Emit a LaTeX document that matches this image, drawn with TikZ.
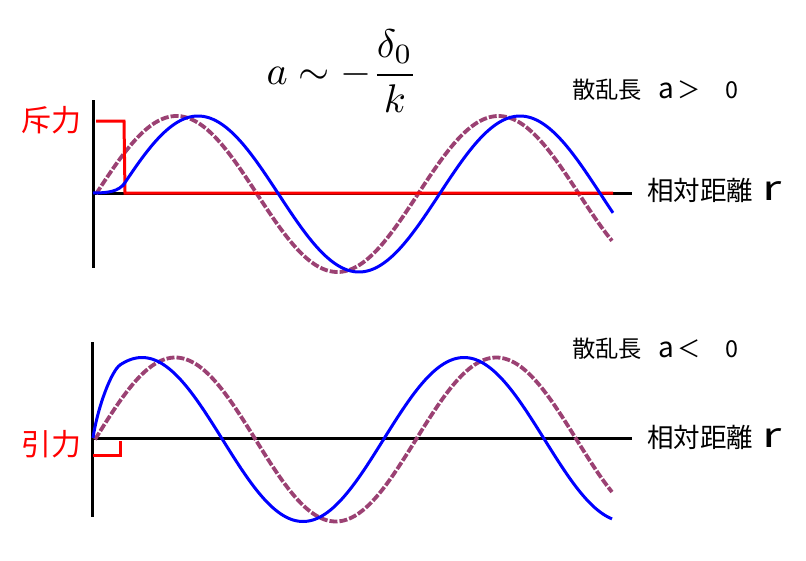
\documentclass[tikz,border=0pt]{standalone}
\usepackage{graphicx}
\usepackage{fontspec}
\newfontfamily\jp{Noto Sans CJK JP}
\definecolor{wavepurple}{RGB}{155,65,115}
\newcommand{\myrlet}{\scalebox{1.45}[1.0]{\fontsize{34}{36}\selectfont r}}
\newcommand{\myalet}{{\fontsize{28}{30}\selectfont a}}
\begin{document}
\begin{tikzpicture}[x=1pt,y=-1pt,
  axis/.style={line width=3pt,black},
  redline/.style={line width=3pt,red,line join=miter},
  bluewave/.style={line width=3pt,blue},
  freewave/.style={line width=3.8pt,wavepurple,dash pattern=on 8pt off 2pt},
  label/.style={inner sep=0pt,font=\jp\fontsize{23.3}{26}\selectfont},
  rlabel/.style={inner sep=0pt,font=\jp\fontsize{26.5}{30}\selectfont},
  forcelabel/.style={inner sep=0pt,text=red,font=\jp\fontsize{30}{34}\selectfont}]
\useasboundingbox (0,0) rectangle (806,560);
% ---------- top panel ----------
\coordinate (t-y0) at (93,100);
\coordinate (t-y1) at (93,268);
\coordinate (t-o) at (93,193);
\coordinate (t-x1) at (632,193);
\draw[axis] (t-y0) -- (t-y1);
\draw[axis] (t-o) -- (t-x1);
\draw[freewave] plot[domain=96:612,samples=200] (\x,{194-78*sin((\x-96)/322*360)});
\coordinate (t-r0) at (96,121);
\coordinate (t-r1) at (124,121);
\coordinate (t-r2) at (125,193);
\coordinate (t-r3) at (613,193);
\draw[redline] (t-r0) -- (t-r1) -- (t-r2) -- (t-r3);
\draw[bluewave] (93,193) .. controls (108,193) and (119,191.6) .. (125,182.6)
  -- plot[domain=125:613,samples=200] (\x,{194-78*sin((\x-117.5)/322*360)});
\node[forcelabel] (repulsive) at (51.5,120) {斥力};
\node[label,anchor=west] (topa) at (572,90) {散乱長\hspace{16pt}\myalet\hspace{4pt}＞\hspace{24pt}0};
\node[rlabel,anchor=west] (topr) at (647,190) {相対距離\hspace{9pt}\myrlet};
\node[inner sep=0pt] (formula) at (342,71) {\scalebox{4.0}{$\displaystyle a \sim -\frac{\delta_0}{k}$}};
% ---------- bottom panel ----------
\coordinate (b-y0) at (92,342);
\coordinate (b-y1) at (92,517);
\coordinate (b-o) at (92,438);
\coordinate (b-x1) at (632,438);
\draw[axis] (b-y0) -- (b-y1);
\draw[axis] (b-o) -- (b-x1);
\draw[freewave] plot[domain=95:612,samples=200] (\x,{439.5-82*sin((\x-95)/321*360)});
\coordinate (b-r0) at (93,455);
\coordinate (b-r1) at (120,455);
\coordinate (b-r2) at (120,441);
\draw[redline] (b-r0) -- (b-r1) -- (b-r2);
\draw[bluewave] (93,438) .. controls (98,405) and (112,370.3) .. (120,365)
  -- plot[domain=120:612,samples=200] (\x,{439.5-82*sin((\x-61.5)/322*360)});
\node[forcelabel] (attractive) at (51,444) {引力};
\node[label,anchor=west] (bota) at (572,349) {散乱長\hspace{16pt}\myalet\hspace{4pt}＜\hspace{24pt}0};
\node[rlabel,anchor=west] (botr) at (647,437) {相対距離\hspace{9pt}\myrlet};
\end{tikzpicture}
\end{document}
